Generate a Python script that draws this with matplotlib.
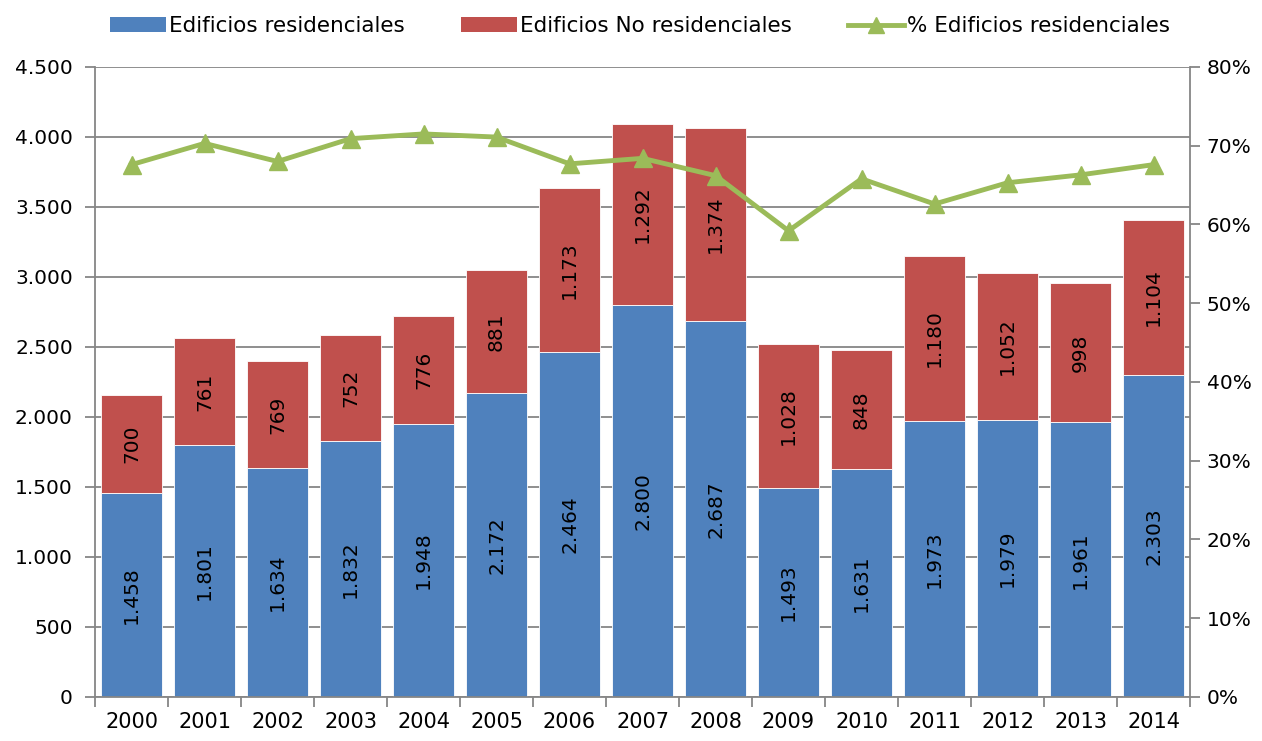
import matplotlib
matplotlib.use("Agg")
import matplotlib.pyplot as plt
from matplotlib.lines import Line2D
from matplotlib.patches import Patch
import numpy as np

years = ["2000", "2001", "2002", "2003", "2004", "2005", "2006", "2007",
         "2008", "2009", "2010", "2011", "2012", "2013", "2014"]
residenciales = [1458, 1801, 1634, 1832, 1948, 2172, 2464, 2800, 2687, 1493, 1631, 1973, 1979, 1961, 2303]
no_residenciales = [700, 761, 769, 752, 776, 881, 1173, 1292, 1374, 1028, 848, 1180, 1052, 998, 1104]
pct_residenciales = [67.6, 70.3, 68.0, 70.9, 71.5, 71.1, 67.7, 68.4, 66.2, 59.2, 65.8, 62.6, 65.3, 66.3, 67.6]

left_ticks = [0, 500, 1000, 1500, 2000, 2500, 3000, 3500, 4000, 4500]
left_labels = ["0", "500", "1.000", "1.500", "2.000", "2.500", "3.000", "3.500", "4.000", "4.500"]
right_ticks = [0, 10, 20, 30, 40, 50, 60, 70, 80]

BLUE = "#4F81BD"
RED = "#C0504D"
GREEN = "#9BBB59"
GRAY = "#868686"

plt.rcParams['font.family'] = ['DejaVu Sans']

def fmt(v):
    return f"{v:,}".replace(",", ".")

fig = plt.figure(figsize=(12.62, 7.41), dpi=100)
ax = fig.add_axes([0.0753, 0.0594, 0.943 - 0.0753, 0.9096 - 0.0594])
x = np.arange(len(years))

ax.set_axisbelow(True)
ax.yaxis.grid(True, color=GRAY, linewidth=1.3)
ax.bar(x, residenciales, width=0.83, color=BLUE, edgecolor="white", linewidth=0.6, zorder=2)
ax.bar(x, no_residenciales, width=0.83, bottom=residenciales, color=RED, edgecolor="white", linewidth=0.6, zorder=2)

for i in range(len(years)):
    ax.text(x[i], residenciales[i] / 2, fmt(residenciales[i]), rotation=90,
            ha="center", va="center", fontsize=14.5, color="black", zorder=3)
    ax.text(x[i], residenciales[i] + no_residenciales[i] / 2, fmt(no_residenciales[i]), rotation=90,
            ha="center", va="center", fontsize=14.5, color="black", zorder=3)

ax.set_xlim(-0.5, len(years) - 0.5)
ax.set_ylim(0, 4500)
ax.set_yticks(left_ticks)
ax.set_yticklabels(left_labels, fontsize=14.5)
ax.set_xticks(x)
ax.set_xticklabels(years, fontsize=15)
ax.set_xticks(np.arange(len(years) + 1) - 0.5, minor=True)
ax.tick_params(axis="x", which="major", length=0, pad=11)
ax.tick_params(axis="x", which="minor", length=7, color=GRAY, width=1.3)
ax.tick_params(axis="y", length=7, color=GRAY, width=1.3, pad=9)
for s in ["top", "right"]:
    ax.spines[s].set_visible(False)
for s in ["left", "bottom"]:
    ax.spines[s].set_color(GRAY)
    ax.spines[s].set_linewidth(1.3)

ax2 = ax.twinx()
ax2.plot(x, pct_residenciales, color=GREEN, linewidth=3.5, marker="^", markersize=13, zorder=5)
ax2.set_ylim(0, 80)
ax2.set_yticks(right_ticks)
ax2.set_yticklabels([f"{t}%" for t in right_ticks], fontsize=14.5)
ax2.tick_params(axis="y", length=7, color=GRAY, width=1.3, pad=5)
for s in ["top", "left", "bottom"]:
    ax2.spines[s].set_visible(False)
ax2.spines["right"].set_color(GRAY)
ax2.spines["right"].set_linewidth(1.3)

handles = [Patch(facecolor=BLUE, label="Edificios residenciales"),
           Patch(facecolor=RED, label="Edificios No residenciales"),
           Line2D([0], [0], color=GREEN, linewidth=3.5, marker="^", markersize=11,
                  label="% Edificios residenciales")]
fig.legend(handles=handles, loc="center", bbox_to_anchor=(0.507, 0.965), ncol=3,
           frameon=False, fontsize=15.5, handlelength=2.6, handleheight=0.65,
           columnspacing=2.6, handletextpad=0.15, borderpad=0)

fig.savefig("out.png", dpi=100)
